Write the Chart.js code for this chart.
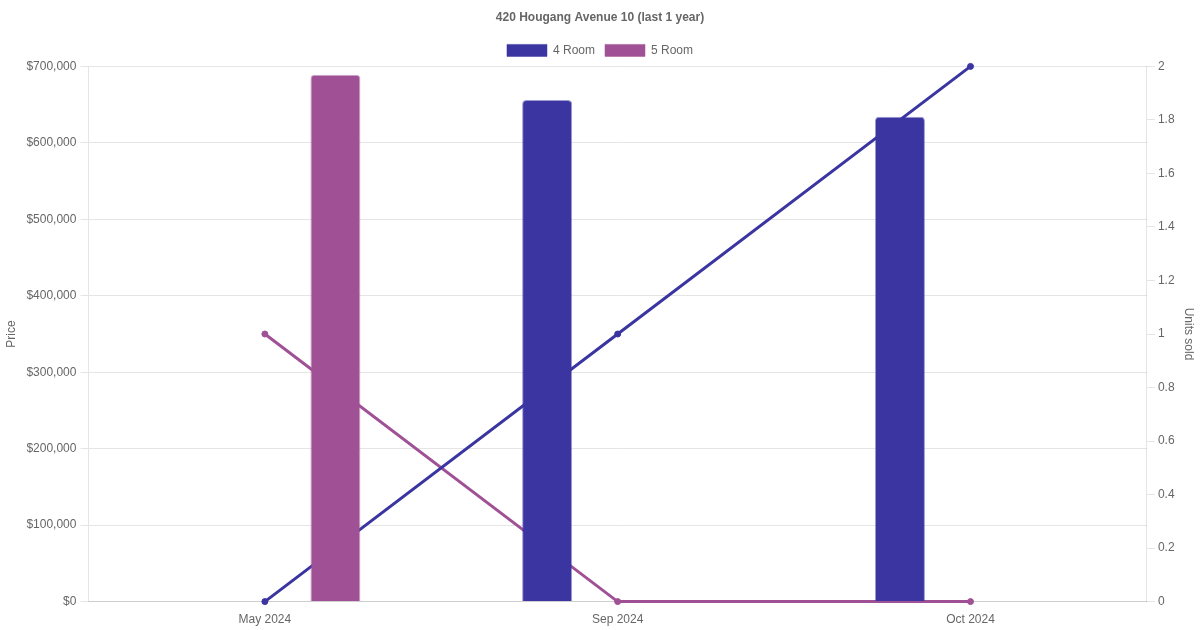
<!DOCTYPE html>
<html>
<head>
<meta charset="utf-8">
<script src="https://cdn.jsdelivr.net/npm/chart.js@4"></script>
<style>
  body { margin: 0; background: #fff; }
  #wrap { width: 1200px; height: 630px; }
</style>
</head>
<body>
<div id="wrap"><canvas id="chart"></canvas></div>
<script>
const months = ['May 2024', 'Sep 2024', 'Oct 2024'];
const price4Room = [null, 656000, 634000];
const price5Room = [689000, null, null];
const units4Room = [0, 1, 2];
const units5Room = [1, 0, 0];

const color4 = '#3a35a1';
const color5 = '#a05195';

const ctx = document.getElementById('chart').getContext('2d');
Chart.defaults.font.family = '"Liberation Sans", Arial, sans-serif';
Chart.defaults.color = '#666';

new Chart(ctx, {
    data: {
        labels: months,
        datasets: [
            {
                type: 'bar',
                label: '4 Room',
                data: price4Room,
                backgroundColor: color4,
                borderColor: 'rgba(58, 53, 161, 0.5)',
                borderWidth: 1,
                borderRadius: 4,
                maxBarThickness: 50,
                yAxisID: 'y'
            },
            {
                type: 'bar',
                label: '5 Room',
                data: price5Room,
                backgroundColor: color5,
                borderColor: 'rgba(160, 81, 149, 0.5)',
                borderWidth: 1,
                borderRadius: 4,
                maxBarThickness: 50,
                yAxisID: 'y'
            },
            {
                type: 'line',
                label: '4 Room units',
                data: units4Room,
                borderColor: color4,
                backgroundColor: color4,
                borderWidth: 3,
                pointRadius: 3,
                pointBorderWidth: 1,
                yAxisID: 'y1'
            },
            {
                type: 'line',
                label: '5 Room units',
                data: units5Room,
                borderColor: color5,
                backgroundColor: color5,
                borderWidth: 3,
                pointRadius: 3,
                pointBorderWidth: 1,
                yAxisID: 'y1'
            }
        ]
    },
    options: {
        responsive: true,
        maintainAspectRatio: false,
        animation: false,
        plugins: {
            title: {
                display: true,
                text: '420 Hougang Avenue 10 (last 1 year)',
                font: { size: 12, weight: 'bold' }
            },
            legend: {
                labels: {
                    filter: item => item.datasetIndex < 2
                }
            }
        },
        scales: {
            x: {
                grid: { display: false }
            },
            y: {
                position: 'left',
                beginAtZero: true,
                title: { display: true, text: 'Price' },
                ticks: {
                    padding: 4,
                    callback: value => '$' + value.toLocaleString('en-US')
                }
            },
            y1: {
                position: 'right',
                beginAtZero: true,
                title: { display: true, text: 'Units sold' },
                grid: { drawOnChartArea: false },
                ticks: {
                    callback: value => String(Math.round(value * 10) / 10)
                }
            }
        }
    }
});
</script>
</body>
</html>
